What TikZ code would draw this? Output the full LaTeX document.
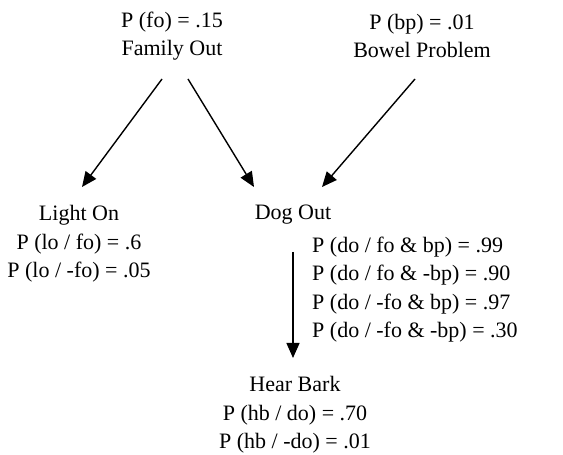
\documentclass[tikz,border=0pt]{standalone}
\usepackage{fontspec}
\setmainfont{Liberation Serif}
\usetikzlibrary{arrows.meta,calc}
\tikzset{
  lbl/.style={inner sep=0pt, align=center, font=\fontsize{22}{28.5}\selectfont},
  cpt/.style={inner sep=0pt, align=left, anchor=west, font=\fontsize{22}{28.5}\selectfont},
  arr/.style={line width=1.4pt, -{Triangle[length=15pt,width=13pt]}}
}
\begin{document}
\begin{tikzpicture}[x=1pt,y=1pt]
\useasboundingbox (0,0) rectangle (563,455);
\node[lbl] (fo) at (172,419) {P (fo) = .15\\Family Out};
\node[lbl] (bp) at (422,419) {P (bp) = .01\\Bowel Problem};
\node[lbl] (lo) at (79,211) {Light On\\P (lo / fo) = .6\\P (lo / -fo) = .05};
\node[lbl] (do) at (293,240) {Dog Out};
\node[cpt] (docpt) at (312,165.5) {P (do / fo \& bp) = .99\\P (do / fo \& -bp) = .90\\P (do / -fo \& bp) = .97\\P (do / -fo \& -bp) = .30};
\node[lbl] (hb) at (295,40) {Hear Bark\\P (hb / do) = .70\\P (hb / -do) = .01};
\draw[arr] ($(fo.center)+(-10,-43)$) -- ($(lo.center)+(3,57)$);
\draw[arr] ($(fo.center)+(16,-43)$) -- ($(do.center)+(-39,28)$);
\draw[arr] ($(bp.center)+(-7,-43)$) -- ($(do.center)+(29,28)$);
\draw[arr] ($(do.center)+(0,-37)$) -- ($(hb.center)+(-2,57)$);
\end{tikzpicture}
\end{document}
